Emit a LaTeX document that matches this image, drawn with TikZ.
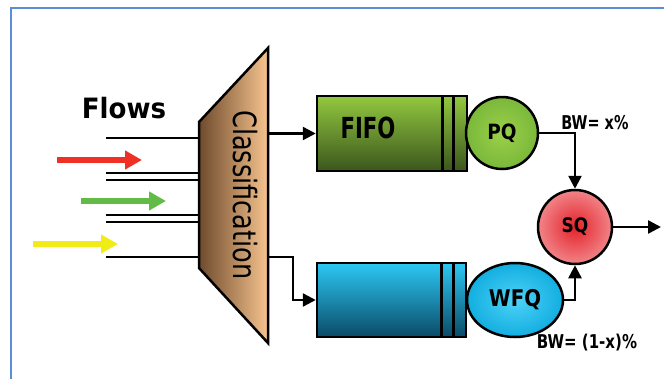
\documentclass[tikz,border=0pt]{standalone}
\usepackage{graphicx}
\usepackage{fontspec}
\setmainfont{DejaVu Sans}
\usetikzlibrary{arrows.meta,shapes.geometric}
\definecolor{framecol}{HTML}{5B8ED6}
\definecolor{brownL}{HTML}{6E4A2C}
\definecolor{peach}{HTML}{F7C48F}
\definecolor{gtop}{HTML}{92C83F}
\definecolor{gbot}{HTML}{3B561D}
\definecolor{btop}{HTML}{2CC8F4}
\definecolor{bbot}{HTML}{0A4A66}
\definecolor{pqin}{HTML}{9CD04A}
\definecolor{pqout}{HTML}{7AB83A}
\definecolor{sqin}{HTML}{E4222A}
\definecolor{sqout}{HTML}{F18488}
\definecolor{wfqin}{HTML}{4ED2F8}
\definecolor{wfqout}{HTML}{12AEE0}
\definecolor{redarr}{HTML}{EE3124}
\definecolor{greenarr}{HTML}{62BB46}
\definecolor{yellowarr}{HTML}{F2EC16}
\tikzset{
  blk/.style={line width=2.5pt, draw=black},
  conn/.style={line width=2.5pt, -{Triangle[length=13pt,width=13pt]}},
  flowline/.style={line width=2.5pt},
  farrow/.style={line width=5.5pt, -{Triangle[length=17pt,width=18pt]}},
  queue/.style={draw=black, line width=2.5pt, minimum width=150pt, minimum height=75pt, inner sep=0pt},
  server/.style={draw=black, line width=2.5pt, inner sep=0pt},
  lbl/.style={inner sep=0pt, font=\bfseries},
}
\begin{document}
\begin{tikzpicture}[x=1pt,y=-1pt]
\useasboundingbox (0,0) rectangle (664,378);
\begin{scope}
\clip (0,0) rectangle (664,378);
\draw[framecol, line width=2pt] (11,8) rectangle (700,420);
\end{scope}

% flow lines
\foreach \y [count=\i] in {138,173,180,215,222,257} {
  \coordinate (fl\i) at (106,\y);
  \coordinate (fr\i) at (199,\y);
  \draw[flowline] (fl\i) -- (fr\i);
}
% coloured flows
\coordinate (rs) at (57,160);  \coordinate (re) at (142,160);
\coordinate (gs) at (81,201);  \coordinate (ge) at (166,201);
\coordinate (ys) at (33,244);  \coordinate (ye) at (118,244);
\draw[farrow, redarr] (rs) -- (re);
\draw[farrow, greenarr] (gs) -- (ge);
\draw[farrow, yellowarr] (ys) -- (ye);

\node[lbl] (flows) at (124,108) {\fontsize{28}{30}\selectfont\scalebox{0.93}[1]{Flows}};

% classifier
\shade[left color=brownL, middle color=peach, right color=peach] (199,122) -- (268,48) -- (268,343) -- (199,268) -- cycle;
\draw[blk, line join=miter] (199,122) -- (268,48) -- (268,343) -- (199,268) -- cycle;
\node[inner sep=0pt, rotate=-90] (cls) at (245,195) {\fontsize{32}{34}\selectfont\scalebox{0.8}[1]{Classification}};

% queues
\node[queue, top color=gtop, bottom color=gbot] (fifo) at (392,133.5) {};
\draw[blk] ([xshift=-26pt]fifo.north east) -- ([xshift=-26pt]fifo.south east);
\draw[blk] ([xshift=-15pt]fifo.north east) -- ([xshift=-15pt]fifo.south east);
\node[lbl] (fifolbl) at (368,128) {\fontsize{29}{30}\selectfont\scalebox{0.73}[1]{FIFO}};

\node[queue, minimum width=149pt, minimum height=74pt, top color=btop, bottom color=bbot] (bq) at (391.5,300) {};
\draw[blk] ([xshift=-26pt]bq.north east) -- ([xshift=-26pt]bq.south east);
\draw[blk] ([xshift=-14pt]bq.north east) -- ([xshift=-14pt]bq.south east);

% servers
\node[server, circle, minimum size=72pt, inner color=pqin, outer color=pqout] (pq) at (502,133) {};
\node[lbl] at (pq) {\fontsize{21}{22}\selectfont\scalebox{0.88}[1]{PQ}};
\node[server, circle, minimum size=74pt, inner color=sqin, outer color=sqout] (sq) at (575,227) {};
\node[lbl] at (sq) {\fontsize{20}{22}\selectfont\scalebox{0.85}[1]{SQ}};
\node[server, ellipse, minimum width=96pt, minimum height=74pt, inner color=wfqin, outer color=wfqout] (wfq) at (515,300) {};
\node[lbl] at (wfq) {\fontsize{23}{24}\selectfont\scalebox{0.86}[1]{WFQ}};

\node[lbl] (bw1) at (595,123) {\fontsize{19}{20}\selectfont\scalebox{0.76}[1]{BW= x\%}};
\node[lbl] (bw2) at (587,343) {\fontsize{19}{20}\selectfont\scalebox{0.79}[1]{BW= (1-x)\%}};

% connectors
\coordinate (c1) at (268,133.5);
\coordinate (c2) at (268,257);
\coordinate (out) at (661,227);
\draw[conn] (c1) -- (fifo.west);
\draw[conn] (c2) -- ++(25,0) |- (bq.west);
\draw[conn] (pq.east) -| (sq.north);
\draw[conn] (wfq.east) -| (sq.south);
\draw[conn] (sq.east) -- (out);
\end{tikzpicture}
\end{document}
